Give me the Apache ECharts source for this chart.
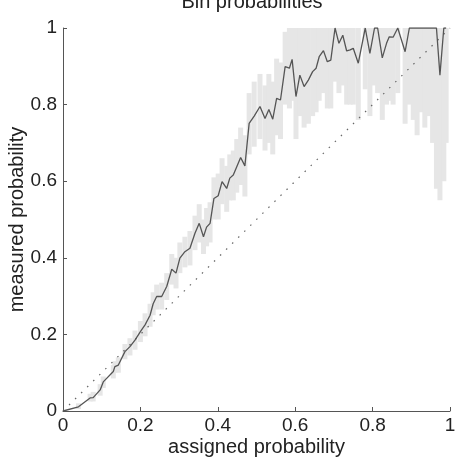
<!DOCTYPE html>
<html>
<head>
<meta charset="utf-8">
<script src="https://cdn.jsdelivr.net/npm/echarts@6/dist/echarts.min.js"></script>
<style>
  html, body { margin: 0; padding: 0; background: #fff; }
  #main { width: 456px; height: 459px; }
</style>
</head>
<body>
<div id="main"></div>
<script>
// bin centres (assigned probability)
var assigned = [0, 0.04, 0.07, 0.078, 0.096, 0.104, 0.13, 0.134, 0.143, 0.16, 0.173, 0.186, 0.2, 0.212, 0.225, 0.233, 0.242, 0.255, 0.268, 0.281,
  0.292, 0.302, 0.315, 0.328, 0.341, 0.352, 0.363, 0.371, 0.38, 0.39, 0.401, 0.411, 0.423, 0.431, 0.44, 0.449, 0.459, 0.47, 0.481, 0.494,
  0.509, 0.522, 0.532, 0.542, 0.552, 0.562, 0.574, 0.585, 0.592, 0.602, 0.612, 0.623, 0.634, 0.645, 0.654, 0.662, 0.673, 0.683, 0.692, 0.703,
  0.713, 0.723, 0.733, 0.742, 0.75, 0.763, 0.781, 0.793, 0.805, 0.813, 0.825, 0.836, 0.843, 0.853, 0.865, 0.884, 0.895, 0.905, 0.915, 0.925,
  0.935, 0.945, 0.955, 0.965, 0.974, 0.984, 0.99];

// measured probability per bin
var measured = [0, 0.011, 0.034, 0.035, 0.055, 0.076, 0.103, 0.116, 0.12, 0.155, 0.168, 0.185, 0.207, 0.225, 0.25, 0.28, 0.299, 0.299, 0.325, 0.37,
  0.36, 0.399, 0.416, 0.425, 0.464, 0.49, 0.455, 0.48, 0.49, 0.555, 0.562, 0.599, 0.581, 0.608, 0.616, 0.638, 0.662, 0.64, 0.751, 0.77,
  0.795, 0.764, 0.787, 0.762, 0.816, 0.812, 0.899, 0.895, 0.918, 0.821, 0.877, 0.847, 0.864, 0.886, 0.895, 0.925, 0.941, 0.912, 0.916, 1.0,
  0.96, 0.981, 0.94, 0.943, 0.947, 0.908, 1.0, 0.934, 1.0, 1.0, 0.922, 0.96, 0.977, 0.976, 1.0, 0.938, 1.0, 1, 1, 1,
  1, 1, 1, 1, 0.877, 1.0, 1.0];

// error bar bounds
var errLow = [0, 0.005, 0.025, 0.025, 0.04, 0.06, 0.085, 0.10, 0.10, 0.135, 0.145, 0.16, 0.18, 0.195, 0.22, 0.25, 0.265, 0.265, 0.29, 0.33,
  0.32, 0.36, 0.375, 0.38, 0.42, 0.44, 0.41, 0.43, 0.44, 0.50, 0.50, 0.54, 0.52, 0.55, 0.55, 0.57, 0.59, 0.56, 0.67, 0.69,
  0.71, 0.68, 0.70, 0.67, 0.72, 0.71, 0.80, 0.79, 0.81, 0.71, 0.77, 0.74, 0.75, 0.77, 0.78, 0.81, 0.83, 0.79, 0.79, 0.86,
  0.83, 0.85, 0.80, 0.80, 0.80, 0.76, 0.84, 0.77, 0.85, 0.83, 0.76, 0.80, 0.81, 0.80, 0.83, 0.75, 0.80, 0.76, 0.72, 0.78,
  0.74, 0.77, 0.70, 0.58, 0.55, 0.60, 0.70];

var errHigh = [0, 0.02, 0.045, 0.05, 0.07, 0.09, 0.12, 0.13, 0.14, 0.175, 0.19, 0.21, 0.235, 0.255, 0.28, 0.31, 0.33, 0.335, 0.36, 0.41,
  0.40, 0.44, 0.455, 0.47, 0.51, 0.54, 0.50, 0.53, 0.545, 0.61, 0.62, 0.66, 0.64, 0.67, 0.68, 0.71, 0.74, 0.72, 0.83, 0.86,
  0.88, 0.85, 0.88, 0.86, 0.92, 0.91, 0.99, 1, 1, 1, 1, 1, 1, 1, 1, 1, 1, 1, 1, 1,
  1, 1, 1, 1, 1, 1, 1, 1, 1, 1, 1, 1, 1, 1, 1, 1, 1, 1, 1, 1,
  1, 1, 1, 1, 1, 1, 1];

var tickValues = [0, 0.2, 0.4, 0.6, 0.8, 1];

window.onload = function() {
  var myChart = echarts.init(document.getElementById('main'));

  var lineData = [], barData = [];
  for (var i = 0; i < assigned.length; i++) {
    lineData.push([assigned[i], measured[i]]);
    barData.push([assigned[i], errLow[i], errHigh[i]]);
  }

  var font = 'Liberation Sans, Arial, sans-serif';
  function fmt(v) { return tickValues.indexOf(v) >= 0 ? String(v) : ''; }

  var axisCommon = {
    type: 'value',
    min: 0,
    max: 1,
    interval: 0.2,
    splitLine: { show: false },
    axisLine: { show: true, lineStyle: { color: '#555', width: 1 } },
    axisTick: { show: true, inside: true, length: 4, lineStyle: { color: '#555' } },
    axisLabel: { color: '#222', fontSize: 19, fontFamily: font, formatter: fmt },
    nameLocation: 'middle',
    nameMoveOverlap: false,
    nameTextStyle: { color: '#222', fontSize: 20, fontFamily: font }
  };

  var option = {
    animation: false,
    backgroundColor: '#fff',
    title: {
      text: 'Bin probabilities',
      left: 247,
      textAlign: 'center',
      top: -13,
      textStyle: { color: '#222', fontSize: 20, fontWeight: 'normal', fontFamily: font }
    },
    grid: { left: 63, right: 6, top: 28, bottom: 48, outerBoundsMode: 'none', containLabel: false },
    xAxis: Object.assign({}, axisCommon, {
      name: 'assigned probability',
      nameGap: 26,
      axisLabel: Object.assign({}, axisCommon.axisLabel, { margin: 5 })
    }),
    yAxis: Object.assign({}, axisCommon, {
      name: 'measured probability',
      nameGap: 36,
      axisLabel: Object.assign({}, axisCommon.axisLabel, { margin: 6 })
    }),
    series: [
      {
        type: 'custom',
        data: barData,
        encode: { x: 0, y: [1, 2] },
        renderItem: function(params, api) {
          var top = api.coord([api.value(0), api.value(2)]);
          var bot = api.coord([api.value(0), api.value(1)]);
          return {
            type: 'rect',
            shape: { x: top[0] - 2.5, y: top[1], width: 5, height: bot[1] - top[1] },
            style: { fill: '#e6e6e6' }
          };
        },
        z: 1
      },
      {
        type: 'line',
        data: [[0, 0], [1, 1]],
        symbol: 'none',
        lineStyle: { color: '#666', width: 1.2, type: [1.5, 7] },
        z: 2
      },
      {
        type: 'line',
        data: lineData,
        symbol: 'none',
        lineStyle: { color: '#555', width: 1.3 },
        z: 3
      }
    ]
  };

  option && myChart.setOption(option);
};
</script>
</body>
</html>
